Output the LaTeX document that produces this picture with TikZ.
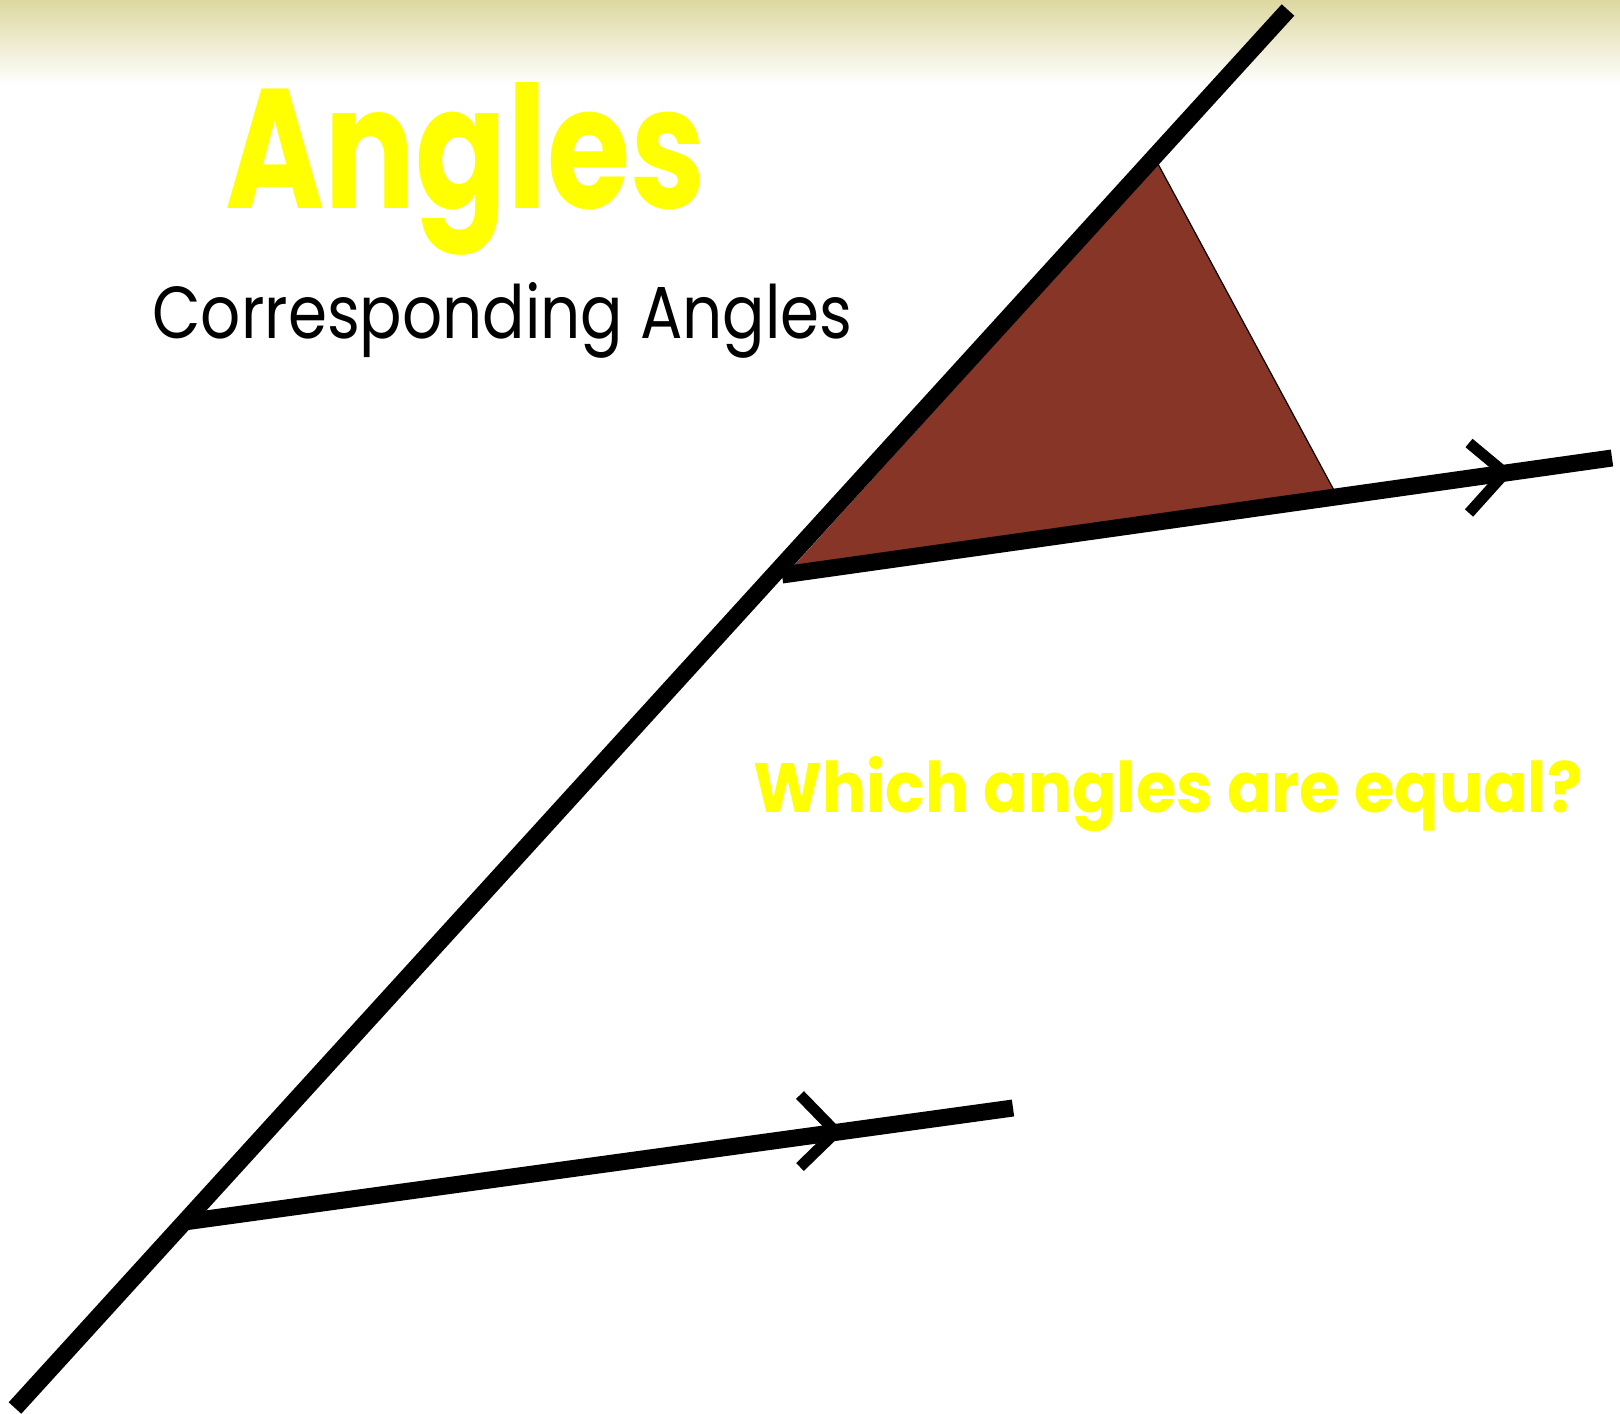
\documentclass[tikz,border=0pt]{standalone}
\usepackage{fontspec}
\setmainfont{Poppins}
\usepackage{tikz}
\definecolor{bandtop}{RGB}{221,216,160}
\definecolor{anglefill}{RGB}{135,53,38}
\definecolor{titleyellow}{RGB}{255,255,0}

\begin{document}
\begin{tikzpicture}[x=0.5pt,y=-0.5pt,
  mainline/.style={line width=8.5pt},
  chevron/.style={line width=5.5pt},
  label/.style={anchor=base west,inner sep=0pt}]
\useasboundingbox (0,0) rectangle (1620,1413);
\shade[top color=bandtop,bottom color=white] (0,0) rectangle (1620,85);
% transversal and the two parallels
\coordinate (tbot) at (15,1408); \coordinate (ttop) at (1288,10);
\coordinate (upA) at (782,575); \coordinate (upB) at (1612,458);
\coordinate (loA) at (184,1222); \coordinate (loB) at (1013,1108);
% shaded angle, only its free side is outlined
\coordinate (corner) at (790,570); \coordinate (apex) at (1158,164); \coordinate (foot) at (1336,494);
\fill[anglefill] (corner) -- (apex) -- (foot) -- cycle;
\draw[line width=0.6pt] (apex) -- (foot);
\draw[mainline] (tbot) -- (ttop);
\draw[mainline] (upA) -- (upB);
\draw[mainline] (loA) -- (loB);
% parallel marks
\coordinate (upTip) at (1505,473); \coordinate (upArmA) at (1469,443); \coordinate (upArmB) at (1469,513);
\coordinate (loTip) at (836,1132); \coordinate (loArmA) at (800,1095); \coordinate (loArmB) at (800,1167);
\draw[chevron] (upArmA) -- (upTip) -- (upArmB);
\draw[chevron] (loArmA) -- (loTip) -- (loArmB);
% texts
\node[label,text=titleyellow] (title) at (225,208) {\resizebox{240pt}{63pt}{\bfseries Angles}};
\node[label] (subtitle) at (152,338) {\resizebox{350pt}{28pt}{Corresponding Angles}};
\node[label,text=titleyellow] (question) at (753,812) {\resizebox{414.5pt}{28pt}{\bfseries Which angles are equal?}};
\end{tikzpicture}
\end{document}
